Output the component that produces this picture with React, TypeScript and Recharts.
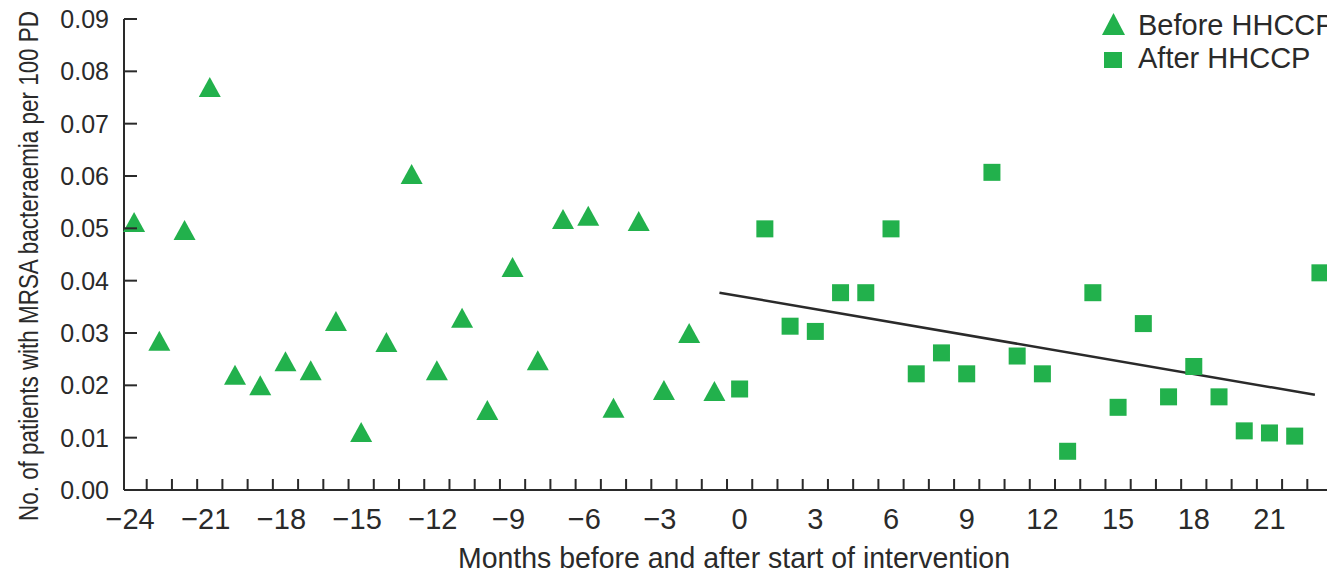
import React from 'react'
import { ScatterChart, Scatter, XAxis, YAxis, ReferenceLine } from 'recharts'

const beforeMonths = [-24, -23, -22, -21, -20, -19, -18, -17, -16, -15, -14, -13, -12, -11, -10, -9, -8, -7, -6, -5, -4, -3, -2, -1]
const beforeRates = [0.0512, 0.0285, 0.0497, 0.077, 0.022, 0.020, 0.0246, 0.0229, 0.0323, 0.0111, 0.0283, 0.0604, 0.0229, 0.0329, 0.0153, 0.0426, 0.0248, 0.0518, 0.0524, 0.0157, 0.0514, 0.0191, 0.030, 0.0189]

const afterMonths = [0, 1, 2, 3, 4, 5, 6, 7, 8, 9, 10, 11, 12, 13, 14, 15, 16, 17, 18, 19, 20, 21, 22, 23]
const afterRates = [0.0193, 0.0499, 0.0313, 0.0303, 0.0377, 0.0377, 0.0499, 0.0222, 0.0262, 0.0222, 0.0607, 0.0256, 0.0222, 0.0074, 0.0377, 0.0158, 0.0318, 0.0178, 0.0236, 0.0178, 0.0113, 0.0109, 0.0103, 0.0415]

// fitted trend after the intervention (start / end)
const trendMonths = [-0.8, 22.8]
const trendRates = [0.0377, 0.0182]

const xLabelTicks = [-24, -21, -18, -15, -12, -9, -6, -3, 0, 3, 6, 9, 12, 15, 18, 21]
const xMinorTicks = [-23.5, -22.5, -21.5, -20.5, -19.5, -18.5, -17.5, -16.5, -15.5, -14.5, -13.5, -12.5, -11.5, -10.5, -9.5, -8.5, -7.5, -6.5, -5.5, -4.5, -3.5, -2.5, -1.5, -0.5, 0.5, 1.5, 2.5, 3.5, 4.5, 5.5, 6.5, 7.5, 8.5, 9.5, 10.5, 11.5, 12.5, 13.5, 14.5, 15.5, 16.5, 17.5, 18.5, 19.5, 20.5, 21.5, 22.5]
const yTicks = [0, 0.01, 0.02, 0.03, 0.04, 0.05, 0.06, 0.07, 0.08, 0.09]

const seriesNames = ['Before HHCCP', 'After HHCCP']

const before = beforeMonths.map((m, i) => ({ month: m, rate: beforeRates[i] }))
const after = afterMonths.map((m, i) => ({ month: m, rate: afterRates[i] }))

const GREEN = '#22b14c'
const INK = '#2a2a2a'
const FONT = '"Liberation Sans", Arial, sans-serif'
const X_DOMAIN = [-24.4, 23.28]

const Triangle = (p: any) => {
  const { cx, cy } = p
  return <polygon points={`${cx},${cy - 10} ${cx - 11},${cy + 10} ${cx + 11},${cy + 10}`} fill={GREEN} />
}

const Square = (p: any) => {
  const { cx, cy } = p
  return <rect x={cx - 8.5} y={cy - 8.5} width={17} height={17} fill={GREEN} />
}

// labelled ticks get text only; half-month ticks get a short inward mark
const XTick = (p: any) => {
  const { x, y, payload } = p
  const v = Number(payload.value)
  if (!Number.isInteger(v)) {
    return <rect x={x - 1} y={y - 11} width={2} height={11} fill={INK} />
  }
  const txt = v < 0 ? `\u2212${Math.abs(v)}` : `${v}`
  return (
    <text x={x - (v < 0 ? 4 : 0)} y={y + 39} textAnchor="middle" fontSize={29} fill={INK} fontFamily={FONT}>
      {txt}
    </text>
  )
}

const YTick = (p: any) => {
  const { x, y, payload } = p
  return (
    <g>
      <rect x={x} y={y - 1} width={13} height={2} fill={INK} />
      <text x={109} y={y + 9} textAnchor="end" fontSize={25} fill={INK} fontFamily={FONT}>
        {Number(payload.value).toFixed(2)}
      </text>
    </g>
  )
}

export default function App() {
  return (
    <div style={{ position: 'absolute', left: 0, top: 0, width: 1327, height: 574, background: '#fff' }}>
      <ScatterChart width={1327} height={574} margin={{ top: 19, right: 0, bottom: 0, left: 0 }}>
        <XAxis
          type="number"
          dataKey="month"
          domain={X_DOMAIN}
          ticks={[...xLabelTicks, ...xMinorTicks].sort((a, b) => a - b)}
          interval={0}
          tick={<XTick />}
          tickLine={false}
          tickSize={0}
          tickMargin={0}
          height={84}
          axisLine={{ stroke: INK, strokeWidth: 2 }}
        />
        <YAxis
          type="number"
          dataKey="rate"
          domain={[0, 0.09]}
          ticks={yTicks}
          interval={0}
          tick={<YTick />}
          tickLine={false}
          tickSize={0}
          tickMargin={0}
          width={124}
          axisLine={{ stroke: INK, strokeWidth: 2 }}
        />
        <Scatter name={seriesNames[0]} data={before} shape={Triangle} isAnimationActive={false} />
        <Scatter name={seriesNames[1]} data={after} shape={Square} isAnimationActive={false} />
        <ReferenceLine
          segment={[
            { x: trendMonths[0], y: trendRates[0] },
            { x: trendMonths[1], y: trendRates[1] },
          ]}
          stroke={INK}
          strokeWidth={2.5}
        />
      </ScatterChart>
      <svg width={1327} height={574} style={{ position: 'absolute', left: 0, top: 0, pointerEvents: 'none' }}>
        <text
          x={734}
          y={568}
          textAnchor="middle"
          fontSize={30}
          fill={INK}
          fontFamily={FONT}
          textLength={552}
          lengthAdjust="spacingAndGlyphs"
        >
          Months before and after start of intervention
        </text>
        <text
          transform="translate(38,266) rotate(-90)"
          textAnchor="middle"
          fontSize={27}
          fill={INK}
          fontFamily={FONT}
          textLength={510}
          lengthAdjust="spacingAndGlyphs"
        >
          No. of patients with MRSA bacteraemia per 100 PD
        </text>
        <polygon points="1113.5,13 1102,35 1125,35" fill={GREEN} />
        <text x={1138} y={35} fontSize={29} fill={INK} fontFamily={FONT}>
          {seriesNames[0]}
        </text>
        <rect x={1104} y={52} width={18} height={16} fill={GREEN} />
        <text x={1138} y={68} fontSize={29} fill={INK} fontFamily={FONT}>
          {seriesNames[1]}
        </text>
      </svg>
    </div>
  )
}
